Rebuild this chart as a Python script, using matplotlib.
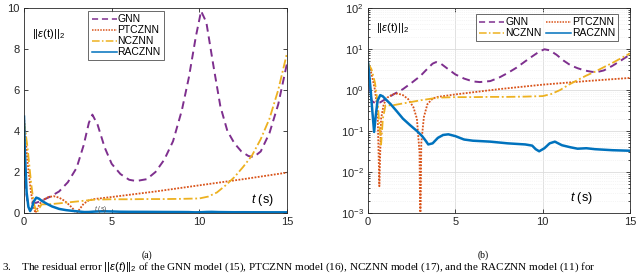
import numpy as np
import matplotlib
matplotlib.use("Agg")
import matplotlib.pyplot as plt
from matplotlib.ticker import LogLocator, NullFormatter

plt.rcParams['font.family'] = ['Liberation Sans', 'DejaVu Sans']
plt.rcParams['mathtext.fontset'] = 'custom'
plt.rcParams['mathtext.rm'] = 'Liberation Sans'
plt.rcParams['mathtext.it'] = 'Liberation Sans:italic'

# ---- data ----
t_gnn = [0, 0.1, 0.2, 0.4, 0.7, 1.0, 1.5, 2.0, 2.5, 3.0, 3.4, 3.7, 3.9, 4.2, 4.6, 5.0, 5.5,
         6.0, 6.4, 7.0, 7.5, 8.0, 8.5, 9.0, 9.4, 9.8, 10.1, 10.4, 10.8, 11.2, 11.6, 12.0,
         12.4, 12.8, 13.1, 13.5, 14.0, 14.5, 15]
v_gnn = [2.8, 1.2, 0.55, 0.48, 0.5, 0.6, 0.8, 1.05, 1.5, 2.2, 3.3, 4.4, 4.8, 4.3, 3.2, 2.4, 1.9,
         1.62, 1.56, 1.65, 2.0, 2.6, 3.5, 5.0, 6.6, 8.6, 9.85, 9.3, 7.2, 5.2, 4.0, 3.4,
         3.0, 2.78, 2.73, 3.0, 3.9, 5.3, 7.3]

t_ptc = [0, 0.2, 0.4, 0.55, 0.65, 0.75, 0.9, 1.1, 1.4, 1.7, 2.0, 2.3, 2.6, 2.8, 2.95, 3.0, 3.05,
         3.2, 3.4, 3.7, 4.0, 5, 7.5, 10, 12.5, 15]
v_ptc = [4.7, 2.5, 1.0, 0.3, 0.0045, 0.2, 0.45, 0.65, 0.78, 0.82, 0.75, 0.6, 0.38, 0.2, 0.03,
         0.0002, 0.05, 0.22, 0.45, 0.62, 0.68, 0.78, 1.05, 1.35, 1.65, 1.97]

t_nc = [0, 0.2, 0.4, 0.55, 0.7, 0.75, 0.85, 1.0, 1.5, 2, 3, 4, 5, 6, 7, 8, 9, 9.5, 10, 10.5,
        11, 11.5, 12, 12.5, 13, 13.5, 14, 14.5, 15]
v_nc = [4.5, 3.2, 1.5, 0.5, 0.08, 0.047, 0.2, 0.42, 0.43, 0.47, 0.56, 0.65, 0.67, 0.67, 0.68,
        0.68, 0.69, 0.7, 0.71, 0.8, 1.0, 1.35, 1.75, 2.25, 2.8, 3.6, 4.6, 6.0, 7.8]

t_rac = [0, 0.05, 0.15, 0.25, 0.35, 0.45, 0.55, 0.7, 0.85, 1.0, 1.3, 1.6, 2.0, 2.4, 2.8, 3.1,
         3.3, 3.45, 3.7, 4.0, 4.3, 4.6, 5.0, 5.5, 6, 7, 8, 9, 9.4, 9.6, 9.8, 10.1, 10.4, 10.7,
         11.1, 11.6, 12, 12.5, 13, 14, 15]
v_rac = [4.7, 3.0, 1.0, 0.3, 0.095, 0.25, 0.55, 0.75, 0.7, 0.6, 0.45, 0.32, 0.2, 0.14, 0.1, 0.075,
         0.058, 0.047, 0.05, 0.068, 0.08, 0.083, 0.075, 0.062, 0.058, 0.055, 0.05, 0.047, 0.044,
         0.036, 0.032, 0.038, 0.05, 0.055, 0.045, 0.04, 0.037, 0.038, 0.036, 0.034, 0.033]

names = ['GNN', 'PTCZNN', 'NCZNN', 'RACZNN']
xticks = [0, 5, 10, 15]
yticks_lin = [0, 2, 4, 6, 8, 10]

series = [(t_gnn, v_gnn, '#7E2F8E', (0, (4, 2.5)), 1.4),
          (t_ptc, v_ptc, '#D95319', (0, (1, 0.8)), 1.3),
          (t_nc, v_nc, '#EDB120', (0, (5, 1.5, 1, 1.5)), 1.3),
          (t_rac, v_rac, '#0072BD', '-', 1.8)]

fig = plt.figure(figsize=(6.4, 2.76), dpi=100)
axL = fig.add_axes([24/640, 1-213/276, 263/640, 205/276])
axR = fig.add_axes([368/640, 1-213/276, 262/640, 205/276])

hR = []
for (t, v, c, ls, lw), n in zip(series, names):
    axL.plot(t, v, color=c, ls=ls, lw=lw, label=n)
    hR.append(axR.plot(t, v, color=c, ls=ls, lw=lw, label=n)[0])

axL.set_xlim(0, 15)
axL.set_ylim(0, 10)
axL.set_xticks(xticks)
axL.set_yticks(yticks_lin)

axR.set_xlim(0, 15)
axR.set_yscale('log')
axR.set_ylim(1e-3, 1e2)
axR.set_xticks(xticks)
axR.yaxis.set_major_locator(LogLocator(base=10, numticks=10))
axR.yaxis.set_minor_locator(LogLocator(base=10, subs=np.arange(2, 10), numticks=10))
axR.yaxis.set_minor_formatter(NullFormatter())
axR.grid(True, which='major', color='#dcdcdc', lw=0.6)
axR.grid(True, which='minor', color='#ececec', lw=0.5, ls=':')
axR.set_axisbelow(True)

for ax in (axL, axR):
    ax.tick_params(direction='in', which='both', top=True, right=True, labelsize=8,
                   length=3, width=0.6, colors='#262626', pad=3)
    ax.tick_params(which='minor', length=1.5)
    for s in ax.spines.values():
        s.set_linewidth(0.6)
        s.set_color('#262626')

legkw = dict(fontsize=7.5, frameon=True, fancybox=False, edgecolor='#262626',
             handlelength=2.4, borderpad=0.3, labelspacing=0.1, handletextpad=0.1,
             borderaxespad=0)
legL = axL.legend(loc='upper left', bbox_to_anchor=(0.245, 0.985), **legkw)
order = [0, 2, 1, 3]
legR = axR.legend([hR[i] for i in order], [names[i] for i in order], loc='upper right',
                  bbox_to_anchor=(0.955, 0.97), ncol=2, columnspacing=0.4, **legkw)
for leg in (legL, legR):
    leg.get_frame().set_linewidth(0.6)
    for ln in leg.get_lines():
        ln.set_linewidth(1.1)

axL.text(0.03, 0.86, r'$||\epsilon$(t)$||_2$', transform=axL.transAxes, fontsize=8)
axR.text(0.03, 0.89, r'$||\epsilon$(t)$||_2$', transform=axR.transAxes, fontsize=8)
axL.text(0.865, 0.05, r'$t$ (s)', transform=axL.transAxes, fontsize=9)
axR.text(0.77, 0.06, r'$t$ (s)', transform=axR.transAxes, fontsize=9)
axL.text(4.0, 0.12, r'$t$ (s)', fontsize=5, color='#555555')

fig.text(147/640, 1-255/276, '(a)', ha='center', va='center', fontsize=7,
         family='Liberation Serif')
fig.text(483/640, 1-255/276, '(b)', ha='center', va='center', fontsize=7,
         family='Liberation Serif')
fig.text(2/640, 2/276, r'3.    The residual error $||\epsilon(t)||_2$ of the GNN model (15), PTCZNN model (16), NCZNN model (17), and the RACZNN model (11) for',
         ha='left', va='bottom', fontsize=8, family='Liberation Serif')

fig.savefig('out.png', dpi=100)
